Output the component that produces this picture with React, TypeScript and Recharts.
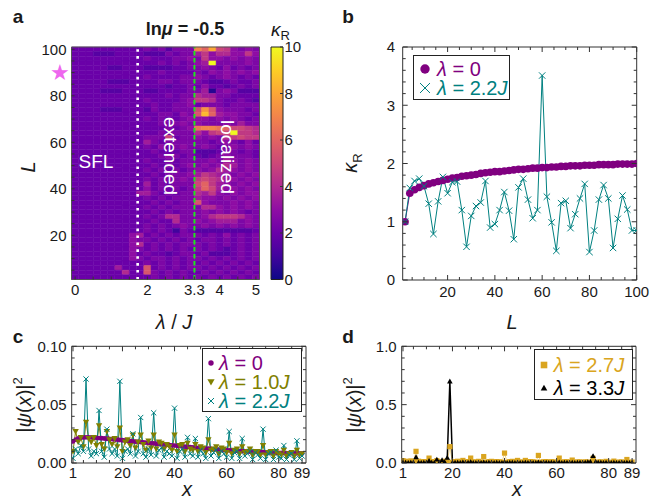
import React from 'react'
import { BarChart, Bar, XAxis, YAxis, ReferenceLine, ReferenceArea, ComposedChart, Line } from 'recharts'

const FONT = '"Liberation Sans", Arial, Helvetica, sans-serif'
const INK = '#1a1a1a'
const FRAME = '#333'
const PURPLE = '#800080'
const TEAL = '#008080'
const OLIVE = '#808000'
const GOLD = '#daa520'

// ---------- panel a: kappa_R heat map ----------
const lambdaCols = [0, 0.2, 0.4, 0.6, 0.8, 1.0, 1.2, 1.4, 1.6, 1.8, 2.0, 2.2, 2.4, 2.6, 2.8, 3.0, 3.2, 3.4, 3.6, 3.8, 4.0, 4.2, 4.4, 4.6, 4.8, 5.0]
const sizeRows = [100, 98, 96, 94, 92, 90, 88, 86, 84, 82, 80, 78, 76, 74, 72, 70, 68, 66, 64, 62, 60, 58, 56, 54, 52, 50, 48, 46, 44, 42, 40, 38, 36, 34, 32, 30, 28, 26, 24, 22, 20, 18, 16, 14, 12, 10, 8, 6, 4, 2]
// one char per cell, kappa = index in KAPPA_CODE / 2
const KAPPA_CODE = '0123456789ABCDEFGHIJK'
const heatCells = [
  '444444444' + '45453555' + 'ECGA96565',
  '444333444' + '43335455' + '796886696',
  '444444444' + '45444556' + '596656565',
  '444444444' + '44454545' + '67K555565',
  '444443344' + '43333445' + '565464545',
  '444444444' + '44454444' + '546565656',
  '444444444' + '45444455' + '654565454',
  '444443334' + '44455455' + '543345445',
  '444444444' + '44443445' + '464434545',
  '444433344' + '43344445' + '571565333',
  '444444444' + '44445455' + '877554444',
  '444444444' + '45444456' + '998544543',
  '444444444' + '44544556' + '455545555',
  '444433344' + '43544555' + 'AFB655545',
  '444444444' + '44455465' + 'BHC766554',
  '444444444' + '45454456' + '665656545',
  '444444444' + '44455565' + '655565755',
  '444444444' + '44445456' + 'DEEDCAA98',
  '444444444' + '44454555' + '869AAK998',
  '444444444' + '4555A455' + '656589A99',
  '444444444' + '47545555' + '554565464',
  '444444444' + '45464565' + '565456565',
  '444444444' + '44544455' + '333455454',
  '444444444' + '44456545' + '434565554',
  '444444444' + '45445455' + '556576565',
  '444444444' + '44545456' + '565687565',
  '444444444' + '45454545' + '656876565',
  '444444444' + '44545556' + '798765656',
  '444444444' + '45455565' + '9A9876565',
  '444444444' + '47454555' + 'AC9765656',
  '444444444' + '46454545' + '9CA766565',
  '444444444' + '77545455' + '879656566',
  '444444444' + '45454555' + '766565656',
  '444444444' + '44545455' + 'B65556565',
  '444444444' + '45454555' + '588656565',
  '444444444' + '44545455' + '565656545',
  '444444444' + '45458855' + '568999865',
  '444444444' + '44544855' + '656777565',
  '444444444' + '45454565' + '565656565',
  '444444444' + '45454254' + '333333334',
  '444444446' + '74545455' + '545464545',
  '444444446' + '55454545' + '455454545',
  '444444446' + '84545455' + '545454545',
  '444444446' + '54545454' + '545434545',
  '444444446' + '45443455' + '453334545',
  '444444446' + '54554545' + '545454545',
  '444444444' + '45454545' + '454545454',
  '444444744' + '4B454545' + '545454545',
  '444444484' + '4B545454' + '454545454',
  '444444444' + '44545454' + '545454545',
]
const lambdaStep = 0.2
const sizeStep = 2
const phaseLines = { sflExtended: 1.73, extendedLocalized: 3.3 }
const lamTicks = [0, 0.5, 1, 1.5, 2, 2.5, 3, 3.3, 3.5, 4, 4.5, 5]
const lamLabels = [0, 2, 3.3, 4, 5]
const sizeTicks = [5, 10, 15, 20, 25, 30, 35, 40, 45, 50, 55, 60, 65, 70, 75, 80, 85, 90, 95, 100]
const sizeLabels = [20, 40, 60, 80, 100]
const cbTicks = [0, 2, 4, 6, 8, 10]

// ---------- panel b ----------
const sizeB = [2, 4, 6, 8, 10, 12, 14, 16, 18, 20, 22, 24, 26, 28, 30, 32, 34, 36, 38, 40, 42, 44, 46, 48, 50, 52, 54, 56, 58, 60, 62, 64, 66, 68, 70, 72, 74, 76, 78, 80, 82, 84, 86, 88, 90, 92, 94, 96, 98, 100]
const kappaLam0 = [1.0, 1.49, 1.55, 1.59, 1.62, 1.65, 1.67, 1.69, 1.71, 1.73, 1.75, 1.76, 1.78, 1.79, 1.8, 1.81, 1.83, 1.84, 1.85, 1.86, 1.86, 1.87, 1.88, 1.89, 1.9, 1.9, 1.91, 1.92, 1.92, 1.93, 1.93, 1.94, 1.94, 1.95, 1.95, 1.96, 1.96, 1.96, 1.97, 1.97, 1.97, 1.98, 1.98, 1.98, 1.98, 1.99, 1.99, 1.99, 1.99, 2.0]
const kappaLam22 = [1.0, 1.58, 1.7, 1.74, 1.61, 1.31, 0.79, 1.35, 1.77, 1.49, 1.68, 1.69, 1.2, 0.57, 1.1, 1.27, 1.33, 1.7, 0.9, 0.96, 1.2, 1.51, 1.19, 0.7, 1.59, 1.74, 1.38, 1.06, 1.2, 3.51, 1.43, 0.99, 0.5, 1.32, 1.36, 0.89, 1.13, 1.4, 1.65, 0.48, 0.85, 1.38, 1.63, 1.4, 0.55, 1.05, 1.45, 1.21, 0.85, 0.85]
const bXTicks = [5, 10, 15, 20, 25, 30, 35, 40, 45, 50, 55, 60, 65, 70, 75, 80, 85, 90, 95, 100]
const bXLabels = [20, 40, 60, 80, 100]
const bYTicks = [0, 0.2, 0.4, 0.6, 0.8, 1, 1.2, 1.4, 1.6, 1.8, 2, 2.2, 2.4, 2.6, 2.8, 3, 3.2, 3.4, 3.6, 3.8, 4]
const bYLabels = [0, 1, 2, 3, 4]

// ---------- panels c, d ----------
const sites = [1, 2, 3, 4, 5, 6, 7, 8, 9, 10, 11, 12, 13, 14, 15, 16, 17, 18, 19, 20, 21, 22, 23, 24, 25, 26, 27, 28, 29, 30, 31, 32, 33, 34, 35, 36, 37, 38, 39, 40, 41, 42, 43, 44, 45, 46, 47, 48, 49, 50, 51, 52, 53, 54, 55, 56, 57, 58, 59, 60, 61, 62, 63, 64, 65, 66, 67, 68, 69, 70, 71, 72, 73, 74, 75, 76, 77, 78, 79, 80, 81, 82, 83, 84, 85, 86, 87, 88, 89]
const psiLam0 = [
  0.0185, 0.02, 0.021, 0.0216, 0.0219, 0.022, 0.022, 0.0219, 0.0218, 0.0216,
  0.0214, 0.0212, 0.021, 0.0208, 0.0206, 0.0204, 0.0202, 0.02, 0.0197, 0.0195,
  0.0193, 0.019, 0.0188, 0.0186, 0.0183, 0.0181, 0.0179, 0.0176, 0.0174, 0.0172,
  0.0169, 0.0167, 0.0165, 0.0162, 0.016, 0.0158, 0.0155, 0.0153, 0.0151, 0.0149,
  0.0147, 0.0144, 0.0142, 0.014, 0.0138, 0.0136, 0.0134, 0.0132, 0.013, 0.0128,
  0.0126, 0.0124, 0.0122, 0.012, 0.0118, 0.0116, 0.0115, 0.0113, 0.0111, 0.011,
  0.0108, 0.0107, 0.0105, 0.0104, 0.0102, 0.0101, 0.01, 0.0098, 0.0097, 0.0096,
  0.0095, 0.0094, 0.0093, 0.0092, 0.0091, 0.009, 0.0089, 0.0088, 0.0087, 0.0087,
  0.0086, 0.0085, 0.0085, 0.0084, 0.0084, 0.0083, 0.0083, 0.0082, 0.0082,
]
const psiLam10 = [
  0.01, 0.027, 0.018, 0.022, 0.014, 0.035, 0.021, 0.018, 0.022, 0.015,
  0.032, 0.016, 0.012, 0.027, 0.02, 0.016, 0.021, 0.014, 0.03, 0.01,
  0.018, 0.02, 0.015, 0.024, 0.013, 0.018, 0.024, 0.016, 0.011, 0.019,
  0.013, 0.024, 0.012, 0.018, 0.017, 0.012, 0.016, 0.014, 0.011, 0.024,
  0.01, 0.015, 0.016, 0.01, 0.017, 0.012, 0.011, 0.016, 0.01, 0.014,
  0.013, 0.009, 0.02, 0.011, 0.012, 0.014, 0.008, 0.013, 0.012, 0.009,
  0.017, 0.008, 0.011, 0.012, 0.008, 0.014, 0.009, 0.01, 0.012, 0.007,
  0.01, 0.01, 0.007, 0.015, 0.007, 0.009, 0.01, 0.006, 0.01, 0.008,
  0.007, 0.011, 0.006, 0.008, 0.009, 0.006, 0.011, 0.007, 0.008,
]
const psiLam22 = [
  0.004, 0.012, 0.008, 0.015, 0.01, 0.072, 0.012, 0.006, 0.01, 0.008,
  0.045, 0.01, 0.005, 0.029, 0.012, 0.008, 0.012, 0.006, 0.07, 0.004,
  0.01, 0.012, 0.008, 0.025, 0.006, 0.01, 0.039, 0.008, 0.005, 0.012,
  0.007, 0.043, 0.006, 0.011, 0.013, 0.005, 0.01, 0.008, 0.006, 0.047,
  0.004, 0.01, 0.012, 0.005, 0.022, 0.008, 0.006, 0.021, 0.005, 0.011,
  0.008, 0.004, 0.038, 0.006, 0.009, 0.011, 0.004, 0.01, 0.008, 0.005,
  0.027, 0.004, 0.009, 0.01, 0.004, 0.021, 0.006, 0.008, 0.01, 0.003,
  0.009, 0.007, 0.004, 0.029, 0.003, 0.008, 0.009, 0.003, 0.011, 0.005,
  0.004, 0.015, 0.003, 0.007, 0.008, 0.003, 0.019, 0.004, 0.006,
]
const psiLam27 = [
  0.02, 0.015, 0.01, 0.018, 0.012, 0.1, 0.015, 0.008, 0.012, 0.01,
  0.042, 0.012, 0.006, 0.02, 0.01, 0.008, 0.015, 0.01, 0.14, 0.006,
  0.012, 0.015, 0.008, 0.022, 0.008, 0.012, 0.042, 0.01, 0.006, 0.014,
  0.008, 0.055, 0.006, 0.012, 0.014, 0.006, 0.012, 0.01, 0.006, 0.085,
  0.005, 0.012, 0.014, 0.006, 0.022, 0.009, 0.006, 0.022, 0.005, 0.012,
  0.01, 0.005, 0.065, 0.006, 0.01, 0.012, 0.004, 0.011, 0.009, 0.005,
  0.042, 0.005, 0.01, 0.011, 0.004, 0.025, 0.006, 0.009, 0.01, 0.004,
  0.01, 0.008, 0.004, 0.04, 0.004, 0.008, 0.01, 0.004, 0.014, 0.006,
  0.004, 0.016, 0.004, 0.008, 0.009, 0.004, 0.03, 0.004, 0.008,
]
const psiLam33 = [
  0.004, 0.003, 0.002, 0.004, 0.003, 0.05, 0.004, 0.002, 0.003, 0.003,
  0.018, 0.004, 0.002, 0.03, 0.005, 0.025, 0.008, 0.045, 0.7, 0.004,
  0.003, 0.004, 0.002, 0.006, 0.002, 0.003, 0.008, 0.002, 0.002, 0.003,
  0.002, 0.006, 0.002, 0.003, 0.003, 0.002, 0.003, 0.002, 0.002, 0.008,
  0.002, 0.003, 0.003, 0.002, 0.004, 0.002, 0.002, 0.004, 0.002, 0.003,
  0.002, 0.002, 0.006, 0.002, 0.003, 0.003, 0.002, 0.003, 0.002, 0.002,
  0.005, 0.002, 0.003, 0.003, 0.002, 0.004, 0.002, 0.003, 0.004, 0.002,
  0.004, 0.008, 0.01, 0.06, 0.01, 0.004, 0.003, 0.002, 0.003, 0.002,
  0.002, 0.003, 0.002, 0.002, 0.003, 0.002, 0.004, 0.002, 0.002,
]
const siteTicks = [1, 5, 10, 15, 20, 25, 30, 35, 40, 45, 50, 55, 60, 65, 70, 75, 80, 85, 89]
const siteLabels = [1, 20, 40, 60, 80, 89]
const cYTicks = [0, 0.01, 0.02, 0.03, 0.04, 0.05, 0.06, 0.07, 0.08, 0.09, 0.1]
const cYLabels = [0, 0.05, 0.1]
const dYTicks = [0, 0.1, 0.2, 0.3, 0.4, 0.5, 0.6, 0.7, 0.8, 0.9, 1]
const dYLabels = [0, 0.5, 1]

// ---------- colour map ----------
const PLASMA = ['#0d0887', '#41049d', '#6a00a8', '#8f0da4', '#b12a90', '#cc4778', '#e16462', '#f2844b', '#fca636', '#fcce25', '#f0f921']
function mix(a: string, b: string, f: number) {
  const pa = [1, 3, 5].map((i) => parseInt(a.slice(i, i + 2), 16))
  const pb = [1, 3, 5].map((i) => parseInt(b.slice(i, i + 2), 16))
  return 'rgb(' + pa.map((v, i) => Math.round(v + (pb[i] - v) * f)).join(',') + ')'
}
function plasma(t: number) {
  const p = Math.max(0, Math.min(1, t)) * 10
  const i = Math.min(9, Math.floor(p))
  return mix(PLASMA[i], PLASMA[i + 1], p - i)
}
const kappaOf = (ch: string) => KAPPA_CODE.indexOf(ch) / 2

// ---------- ticks drawn inside the frame ----------
type Side = 'left' | 'right' | 'top' | 'bottom'
const near = (list: number[], v: number) => list.some((m) => Math.abs(m - v) < 1e-6)
function frameTick(side: Side, labels: number[], fmt: (v: number) => string, gap = 5, majorLen = 5, minorLen = 3) {
  return (p: any) => {
    const { x, y, payload } = p
    const v = payload.value
    const len = near(labels, v) ? majorLen : minorLen
    const show = near(labels, v)
    const ts = { fontFamily: FONT, fontSize: 15, fill: INK }
    let line: React.ReactNode = null
    let text: React.ReactNode = null
    if (side === 'bottom') {
      line = <line x1={x} x2={x} y1={y} y2={y - len} />
      if (show) text = <text x={x} y={y + gap + 11} textAnchor="middle" {...ts}>{fmt(v)}</text>
    } else if (side === 'top') {
      line = <line x1={x} x2={x} y1={y} y2={y + len} />
    } else if (side === 'left') {
      line = <line x1={x} x2={x + len} y1={y} y2={y} />
      if (show) text = <text x={x - gap} y={y + 5.4} textAnchor="end" {...ts}>{fmt(v)}</text>
    } else {
      line = <line x1={x} x2={x - len} y1={y} y2={y} />
      if (show) text = <text x={x + gap} y={y + 5.4} textAnchor="start" {...ts}>{fmt(v)}</text>
    }
    return (
      <g>
        {len > 0 && <g stroke={FRAME} strokeWidth={1}>{line}</g>}
        {text}
      </g>
    )
  }
}
const noLabel = (_v: number) => ''

// ---------- markers ----------
const dotShape = (p: any, r: number, c: string) => <circle key={p.index} cx={p.cx} cy={p.cy} r={r} fill={c} />
const crossShape = (p: any, s: number, c: string) => (
  <path key={p.index} d={`M${p.cx - s},${p.cy - s}L${p.cx + s},${p.cy + s}M${p.cx - s},${p.cy + s}L${p.cx + s},${p.cy - s}`} stroke={c} strokeWidth={1} fill="none" />
)
const triDownShape = (p: any, s: number, c: string) => (
  <polygon key={p.index} points={`${p.cx - s},${p.cy - s * 0.75} ${p.cx + s},${p.cy - s * 0.75} ${p.cx},${p.cy + s}`} fill={c} />
)
const triUpShape = (p: any, s: number, c: string) => (
  <polygon key={p.index} points={`${p.cx - s},${p.cy + s * 0.75} ${p.cx + s},${p.cy + s * 0.75} ${p.cx},${p.cy - s}`} fill={c} />
)
const squareShape = (p: any, s: number, c: string) => <rect key={p.index} x={p.cx - s} y={p.cy - s} width={2 * s} height={2 * s} fill={c} />

// ---------- free text ----------
function Txt({ x, y, size = 20, color = INK, bold = false, italic = false, rotate = 0, children }: any) {
  return (
    <div
      style={{
        position: 'absolute', left: x, top: y, transform: `translate(-50%, -50%) rotate(${rotate}deg)`,
        fontSize: size, color, fontWeight: bold ? 700 : 400, fontStyle: italic ? 'italic' : 'normal',
        lineHeight: 1, whiteSpace: 'nowrap', fontFamily: FONT,
      }}
    >
      {children}
    </div>
  )
}

const Lam = ({ v, j = true }: { v: string; j?: boolean }) => (
  <span><i>λ</i> = {v}{j && <i>J</i>}</span>
)

function LegendBox({ left, top, width, height, rows }: any) {
  return (
    <div style={{ position: 'absolute', left, top, width, height, border: '1px solid #222', background: '#fff', boxSizing: 'border-box' }}>
      {rows.map((r: any, i: number) => (
        <div key={i} style={{ position: 'absolute', left: 0, top: r.y - top, height: 0 }}>
          <svg width={16} height={16} style={{ position: 'absolute', left: r.mx - left - 8, top: -8, overflow: 'visible' }}>
            {r.marker({ cx: 8, cy: 8, index: 0 })}
          </svg>
          <div style={{ position: 'absolute', left: r.tx - left, top: -8, fontSize: 20, lineHeight: '16px', color: r.color, whiteSpace: 'nowrap', fontFamily: FONT }}>
            {r.label}
          </div>
        </div>
      ))}
    </div>
  )
}

// ---------- panel a ----------
function HeatPanel() {
  const table = lambdaCols.map((lam) => ({ lam, mid: 50 }))
  const areas: React.ReactNode[] = []
  sizeRows.forEach((L, r) => {
    lambdaCols.forEach((lam, c) => {
      const col = plasma(kappaOf(heatCells[r][c]) / 10)
      areas.push(
        <ReferenceArea key={r + '-' + c} x1={lam - lambdaStep / 2} x2={lam + lambdaStep / 2} y1={L - sizeStep / 2} y2={L + sizeStep / 2}
          fill={col} fillOpacity={1} stroke={col} strokeWidth={0.5} ifOverflow="visible" />
      )
    })
  })
  return (
    <ComposedChart width={330} height={310} data={table} margin={{ top: 46, right: 69.5, bottom: 29.5, left: 70.5 }}>
      <XAxis dataKey="lam" type="number" domain={[-0.1, 5.1]} ticks={lamTicks} interval={0} allowDataOverflow height={1}
        tickSize={0} tickMargin={0} tickLine={false} axisLine={{ stroke: '#555' }}
        tick={frameTick('bottom', lamLabels, (v) => String(v), 4.5, 3, 3)} />
      <XAxis xAxisId="t" orientation="top" dataKey="lam" type="number" domain={[-0.1, 5.1]} allowDataOverflow height={1}
        tick={false} tickLine={false} axisLine={{ stroke: '#555' }} />
      <YAxis type="number" domain={[1, 101]} ticks={sizeTicks} interval={0} allowDataOverflow width={1}
        tickSize={0} tickMargin={0} tickLine={false} axisLine={{ stroke: '#555' }}
        tick={frameTick('left', sizeLabels, (v) => String(v), 5, 3, 3)} />
      <YAxis yAxisId="r" orientation="right" type="number" domain={[1, 101]} allowDataOverflow width={1}
        tick={false} tickLine={false} axisLine={{ stroke: '#555' }} />
      <Line dataKey="mid" stroke="none" dot={false} isAnimationActive={false} legendType="none" />
      <Line xAxisId="t" yAxisId="r" dataKey="mid" stroke="none" dot={false} isAnimationActive={false} legendType="none" />
      {areas}
      <ReferenceLine x={phaseLines.sflExtended} stroke="#ffffff" strokeWidth={2.6} strokeDasharray="2.6 4.3" />
      <ReferenceLine x={phaseLines.extendedLocalized} stroke="#1ee61e" strokeWidth={2} strokeDasharray="4.6 2.4" />
    </ComposedChart>
  )
}

function ColorBar() {
  return (
    <BarChart width={80} height={310} data={[{ name: 'cb', top: 10 }]} barCategoryGap={0}
      margin={{ top: 47, right: 36, bottom: 30.5, left: 31 }}>
      <defs>
        <linearGradient id="plasmaGrad" x1="0" y1="1" x2="0" y2="0">
          {PLASMA.map((c, i) => <stop key={i} offset={i / 10} stopColor={c} />)}
        </linearGradient>
      </defs>
      <XAxis dataKey="name" type="category" hide />
      <YAxis orientation="right" type="number" domain={[0, 10]} ticks={cbTicks} interval={0} width={1}
        tickSize={0} tickMargin={0} tickLine={false} axisLine={false}
        tick={frameTick('right', cbTicks, (v) => String(v), 1.5, 3, 3)} />
      <Bar dataKey="top" fill="url(#plasmaGrad)" stroke="#222" strokeWidth={1} isAnimationActive={false} />
    </BarChart>
  )
}

// ---------- panel b ----------
function KappaPanel() {
  const data = sizeB.map((L, i) => ({ L, k0: kappaLam0[i], k22: kappaLam22[i] }))
  return (
    <ComposedChart width={328} height={310} data={data} margin={{ top: 46, right: 20.3, bottom: 29, left: 71.7 }}>
      <XAxis dataKey="L" type="number" domain={[1, 100]} ticks={bXTicks} interval={0} allowDataOverflow height={1}
        tickSize={0} tickMargin={0} tickLine={false} axisLine={{ stroke: FRAME }}
        tick={frameTick('bottom', bXLabels, (v) => String(v), 6)} />
      <XAxis xAxisId="t" orientation="top" dataKey="L" type="number" domain={[1, 100]} ticks={bXTicks} interval={0} height={1}
        tickSize={0} tickMargin={0} tickLine={false} axisLine={{ stroke: FRAME }} tick={frameTick('top', bXLabels, noLabel)} />
      <YAxis type="number" domain={[0, 4]} ticks={bYTicks} interval={0} allowDataOverflow width={1}
        tickSize={0} tickMargin={0} tickLine={false} axisLine={{ stroke: FRAME }}
        tick={frameTick('left', bYLabels, (v) => String(v), 7.5)} />
      <YAxis yAxisId="r" orientation="right" type="number" domain={[0, 4]} ticks={bYTicks} interval={0} width={1}
        tickSize={0} tickMargin={0} tickLine={false} axisLine={{ stroke: FRAME }} tick={frameTick('right', bYLabels, noLabel)} />
      <Line xAxisId="t" yAxisId="r" dataKey="k0" stroke="none" dot={false} isAnimationActive={false} legendType="none" />
      <Line dataKey="k0" stroke={PURPLE} strokeWidth={1} dot={(p: any) => dotShape(p, 3.8, PURPLE)} isAnimationActive={false} />
      <Line dataKey="k22" stroke={TEAL} strokeWidth={1} dot={(p: any) => crossShape(p, 3.2, TEAL)} isAnimationActive={false} />
    </ComposedChart>
  )
}

// ---------- panels c, d ----------
function PsiPanel({ series, yTicks, yLabels, yDomain, fmt, width, right }: any) {
  const data = sites.map((x, i) => {
    const row: Record<string, number> = { x }
    series.forEach((s: any) => { row[s.key] = s.values[i] })
    return row
  })
  return (
    <ComposedChart width={width} height={189} data={data} margin={{ top: 35.3, right: right - 1, bottom: 35, left: 70.7 }}>
      <XAxis dataKey="x" type="number" domain={[0.5, 90.5]} ticks={siteTicks} interval={0} allowDataOverflow height={1}
        tickSize={0} tickMargin={0} tickLine={false} axisLine={{ stroke: FRAME }}
        tick={frameTick('bottom', siteLabels, (v) => String(v), 4)} />
      <XAxis xAxisId="t" orientation="top" dataKey="x" type="number" domain={[0.5, 90.5]} ticks={siteTicks} interval={0} height={1}
        tickSize={0} tickMargin={0} tickLine={false} axisLine={{ stroke: FRAME }} tick={frameTick('top', siteLabels, noLabel)} />
      <YAxis type="number" domain={yDomain} ticks={yTicks} interval={0} allowDataOverflow width={1}
        tickSize={0} tickMargin={0} tickLine={false} axisLine={{ stroke: FRAME }}
        tick={frameTick('left', yLabels, fmt, 5)} />
      <YAxis yAxisId="r" orientation="right" type="number" domain={yDomain} ticks={yTicks} interval={0} width={1}
        tickSize={0} tickMargin={0} tickLine={false} axisLine={{ stroke: FRAME }} tick={frameTick('right', yLabels, noLabel)} />
      <Line xAxisId="t" yAxisId="r" dataKey={series[0].key} stroke="none" dot={false} isAnimationActive={false} legendType="none" />
      {series.map((s: any) => (
        <Line key={s.key} dataKey={s.key} stroke={s.color} strokeWidth={s.width} dot={s.dot} isAnimationActive={false} />
      ))}
    </ComposedChart>
  )
}

const seriesC = [
  { key: 'p0', values: psiLam0, color: PURPLE, width: 1, dot: (p: any) => dotShape(p, 2.4, PURPLE) },
  { key: 'p10', values: psiLam10, color: OLIVE, width: 1, dot: (p: any) => triDownShape(p, 3.2, OLIVE) },
  { key: 'p22', values: psiLam22, color: TEAL, width: 1, dot: (p: any) => crossShape(p, 2.6, TEAL) },
]
const seriesD = [
  { key: 'p27', values: psiLam27, color: '#f0d48a', width: 1, dot: (p: any) => squareShape(p, 2.6, GOLD) },
  { key: 'p33', values: psiLam33, color: '#000', width: 1.5, dot: (p: any) => triUpShape(p, 2.8, '#000') },
]

const Psi = () => (
  <span>|<i>ψ</i>(<i>x</i>)|<sup style={{ fontSize: 13, verticalAlign: 'top', position: 'relative', top: -3 }}>2</sup></span>
)

export default function App() {
  return (
    <div style={{ position: 'absolute', left: 0, top: 0, width: 658, height: 499, background: '#fff', overflow: 'hidden', fontFamily: FONT, color: INK }}>
      <div style={{ position: 'absolute', left: 0, top: 0 }}><HeatPanel /></div>
      <div style={{ position: 'absolute', left: 240, top: 0 }}><ColorBar /></div>
      <div style={{ position: 'absolute', left: 330, top: 0 }}><KappaPanel /></div>
      <div style={{ position: 'absolute', left: 0, top: 310 }}>
        <PsiPanel series={seriesC} yTicks={cYTicks} yLabels={cYLabels} yDomain={[0, 0.1]} fmt={(v: number) => v.toFixed(2)} width={330} right={24} />
      </div>
      <div style={{ position: 'absolute', left: 330, top: 310 }}>
        <PsiPanel series={seriesD} yTicks={dYTicks} yLabels={dYLabels} yDomain={[0, 1]} fmt={(v: number) => v.toFixed(1)} width={328} right={22} />
      </div>

      {/* panel a text */}
      <Txt x={18} y={16} size={19} bold>a</Txt>
      <Txt x={185} y={29} size={18} bold>ln<i>μ</i> = -0.5</Txt>
      <div style={{ position: 'absolute', left: 271, top: 22, fontSize: 19, lineHeight: '15px', whiteSpace: 'nowrap', fontFamily: FONT }}>
        <i>κ</i><span style={{ fontSize: 13, position: 'relative', top: 4 }}>R</span>
      </div>
      <Txt x={60} y={73} size={22} color="#ee66ee">★</Txt>
      <Txt x={28} y={167} size={20} italic rotate={-90}>L</Txt>
      <Txt x={96} y={161} size={19} color="#fff">SFL</Txt>
      <Txt x={170} y={156} size={19} color="#fff" rotate={90}>extended</Txt>
      <Txt x={227} y={157} size={19} color="#fff" rotate={90}>localized</Txt>
      <Txt x={174} y={322} size={20}><i>λ</i> / <i>J</i></Txt>

      {/* panel b text */}
      <Txt x={348} y={16} size={19} bold>b</Txt>
      <Txt x={352} y={163} size={20} rotate={-90}><i>κ</i><sub style={{ fontSize: 13 }}>R</sub></Txt>
      <Txt x={512} y={322} size={20} italic>L</Txt>
      <LegendBox left={412.7} top={55} width={97.3} height={45} rows={[
        { y: 68, mx: 424.5, tx: 436, color: PURPLE, label: <Lam v="0" j={false} />, marker: (p: any) => dotShape(p, 4.7, PURPLE) },
        { y: 87, mx: 424.5, tx: 436, color: TEAL, label: <Lam v="2.2" />, marker: (p: any) => crossShape(p, 5, TEAL) },
      ]} />

      {/* panel c text */}
      <Txt x={18} y={336} size={19} bold>c</Txt>
      <Txt x={24} y={405} size={20} rotate={-90}><Psi /></Txt>
      <div style={{ position: 'absolute', left: 182, top: 481, fontSize: 20, lineHeight: '16px', fontStyle: 'italic', fontFamily: FONT }}>x</div>
      <LegendBox left={201.7} top={348.3} width={100} height={63.4} rows={[
        { y: 362, mx: 210, tx: 218, color: PURPLE, label: <Lam v="0" j={false} />, marker: (p: any) => dotShape(p, 2.7, PURPLE) },
        { y: 381, mx: 210, tx: 218, color: OLIVE, label: <Lam v="1.0" />, marker: (p: any) => triDownShape(p, 3.6, OLIVE) },
        { y: 400, mx: 210, tx: 218, color: TEAL, label: <Lam v="2.2" />, marker: (p: any) => crossShape(p, 3, TEAL) },
      ]} />

      {/* panel d text */}
      <Txt x={348} y={336} size={19} bold>d</Txt>
      <Txt x={354} y={405} size={20} rotate={-90}><Psi /></Txt>
      <div style={{ position: 'absolute', left: 512, top: 481, fontSize: 20, lineHeight: '16px', fontStyle: 'italic', fontFamily: FONT }}>x</div>
      <LegendBox left={534} top={349.3} width={99.3} height={50.7} rows={[
        { y: 364, mx: 543, tx: 552.7, color: GOLD, label: <Lam v="2.7" />, marker: (p: any) => squareShape(p, 3.3, GOLD) },
        { y: 387, mx: 543, tx: 552.7, color: '#000', label: <Lam v="3.3" />, marker: (p: any) => triUpShape(p, 3.3, '#000') },
      ]} />
    </div>
  )
}
